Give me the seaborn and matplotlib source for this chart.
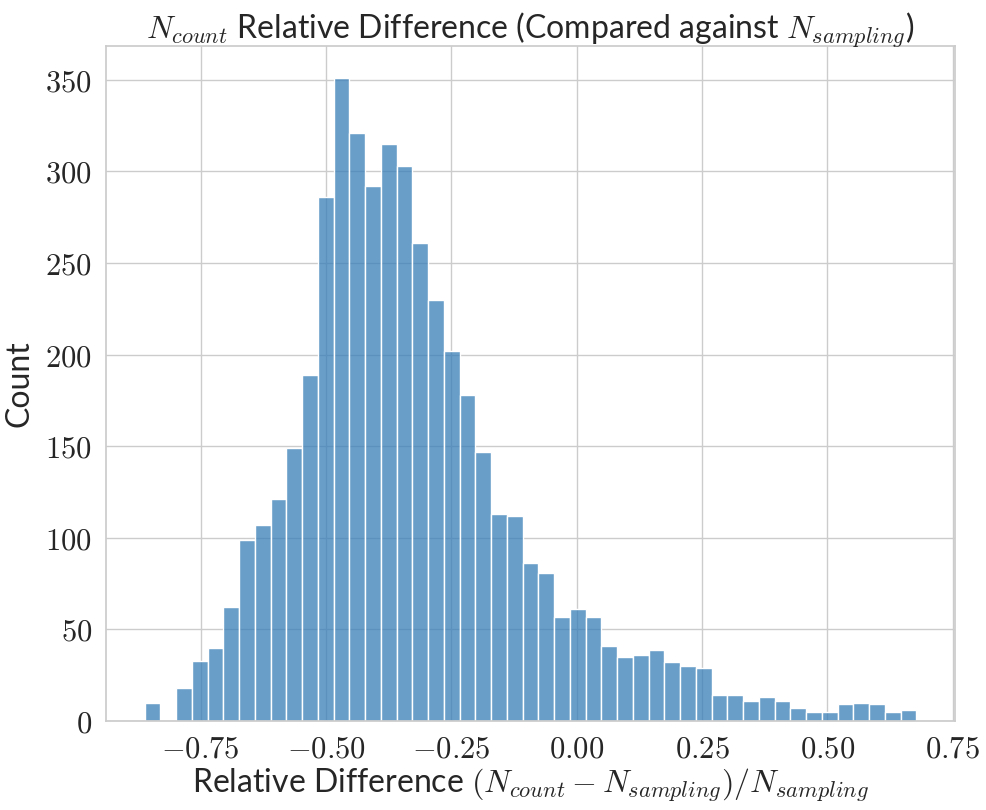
import numpy as np
import pandas as pd
import seaborn as sns
import matplotlib
matplotlib.use("Agg")
import matplotlib.pyplot as plt
from matplotlib.ticker import FuncFormatter

# ---- data ----
bin_lo = -0.862
bin_hi = 0.678
counts = [10, 0, 18, 33, 40, 62, 99, 107, 121, 149, 189, 286, 351, 321, 292,
          315, 303, 261, 230, 202, 178, 147, 113, 112, 86, 81, 57, 61, 57, 41,
          35, 36, 39, 32, 30, 29, 14, 14, 11, 13, 11, 7, 5, 5, 9, 10, 9, 5, 6]
x_ticks = [-0.75, -0.50, -0.25, 0.00, 0.25, 0.50, 0.75]
y_ticks = [0, 50, 100, 150, 200, 250, 300, 350]

edges = [float(e) for e in np.linspace(bin_lo, bin_hi, len(counts) + 1)]
centers = [(a + b) / 2 for a, b in zip(edges[:-1], edges[1:])]
df = pd.DataFrame({"rel": centers, "n": counts})

sns.set_theme(style="whitegrid")
plt.rcParams["font.family"] = ["Lato", "DejaVu Sans"]
plt.rcParams["mathtext.fontset"] = "cm"

fig = plt.figure(figsize=(9.86, 8.10), dpi=100)
ax = fig.add_axes([0.1075, 0.1099, 0.8611, 0.8337])

sns.histplot(data=df, x="rel", weights="n", bins=edges, ax=ax,
             color="#377eb8", alpha=0.75, edgecolor="white", linewidth=1)

ax.set_xticks(x_ticks)
ax.set_yticks(y_ticks)
ax.xaxis.set_major_formatter(FuncFormatter(lambda v, p: f"${v:.2f}$"))
ax.yaxis.set_major_formatter(FuncFormatter(lambda v, p: f"${v:.0f}$"))
ax.tick_params(axis="both", labelsize=22, pad=4)

ax.set_title(r"$N_{count}$ Relative Difference (Compared against $N_{sampling}$)",
             fontsize=23, pad=5)
ax.set_xlabel(r"Relative Difference $(N_{count} - N_{sampling})/N_{sampling}$",
              fontsize=23, labelpad=3)
ax.set_ylabel("Count", fontsize=23, labelpad=8)

fig.savefig("out.png", dpi=100)
